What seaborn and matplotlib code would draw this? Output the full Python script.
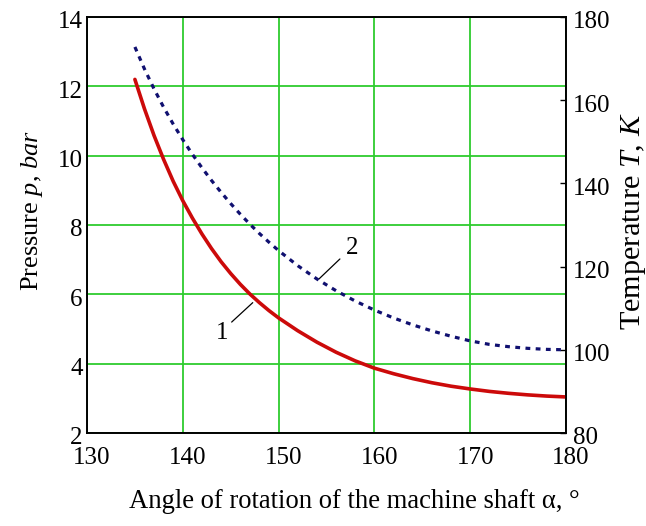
import numpy as np
import pandas as pd
import matplotlib
matplotlib.use("Agg")
import matplotlib.pyplot as plt
import matplotlib.transforms as mtransforms
import seaborn as sns

# ---- data ----
angle = [135, 136, 137, 138, 139, 140, 141, 142, 143, 144, 145, 146, 147, 148, 149, 150,
         152, 154, 156, 158, 160, 162, 164, 166, 168, 170, 172, 174, 176, 178, 180]
pressure = [12.2, 11.35, 10.58, 9.89, 9.26, 8.70, 8.20, 7.74, 7.32, 6.94, 6.60, 6.29, 6.01, 5.76,
            5.53, 5.32, 4.95, 4.62, 4.33, 4.08, 3.87, 3.71, 3.57, 3.45, 3.35, 3.27, 3.20, 3.145,
            3.10, 3.065, 3.04]
temperature = [172.8, 167.5, 162.7, 158.3, 154.25, 150.5, 147.0, 143.75, 140.7, 137.85, 135.15,
               132.6, 130.2, 127.95, 125.85, 123.85, 120.22, 117.02, 114.2, 111.72, 109.55,
               107.65, 105.99, 104.54, 103.26, 102.14, 101.3, 100.75, 100.35, 100.1, 100.0]

x_ticks = [130, 140, 150, 160, 170, 180]
p_ticks = [2, 4, 6, 8, 10, 12, 14]
t_ticks = [80, 100, 120, 140, 160, 180]

sns.set_theme(style="white")
plt.rcParams["font.family"] = ["Liberation Serif", "DejaVu Serif"]
plt.rcParams["mathtext.fontset"] = "custom"
plt.rcParams["mathtext.rm"] = "Liberation Serif"
plt.rcParams["mathtext.it"] = "Liberation Serif:italic"

df = pd.DataFrame({"angle": angle, "pressure": pressure, "temperature": temperature})

W, H = 646, 526
fig = plt.figure(figsize=(W / 100, H / 100), dpi=100)
fig.patch.set_facecolor("white")
L, R, T, B = 87, 566, 17, 433
ax = fig.add_axes([L / W, 1 - B / H, (R - L) / W, (B - T) / H])
ax2 = ax.twinx()

sns.lineplot(data=df, x="angle", y="pressure", ax=ax, color="#cc0a0a", lw=2.6, zorder=3)
sns.lineplot(data=df, x="angle", y="temperature", ax=ax2, color="#101070", lw=2.3,
             linestyle=(0, (1.5, 1.7)), zorder=3)

ax.set_xlim(130, 180)
ax.set_ylim(2, 14)
ax2.set_ylim(80, 180)
ax.set_xticks(x_ticks)
ax.set_yticks(p_ticks)
ax2.set_yticks(t_ticks)
ax.set_xticklabels([str(v) for v in x_ticks])
ax.set_yticklabels([str(v) for v in p_ticks])
ax2.set_yticklabels([str(v) for v in t_ticks])

ax.grid(True, color="#2ecc2e", lw=1.3)
ax.set_axisbelow(True)
ax2.grid(False)

fs = 18
ax.tick_params(axis="x", length=0, pad=10, labelsize=fs, colors="black")
ax.tick_params(axis="y", length=0, pad=3, labelsize=fs, colors="black")
ax2.tick_params(axis="y", direction="in", length=4.5, width=1.0, pad=5,
                labelsize=fs, colors="black", right=True)

for a in (ax, ax2):
    for s in a.spines.values():
        s.set_color("black")
        s.set_linewidth(1.2)

off = mtransforms.ScaledTranslation(5 / 100, 0, fig.dpi_scale_trans)
for lab in ax.get_xticklabels():
    lab.set_transform(lab.get_transform() + off)
offy = mtransforms.ScaledTranslation(0, -3 / 100, fig.dpi_scale_trans)
for lab in ax.get_yticklabels() + ax2.get_yticklabels():
    lab.set_transform(lab.get_transform() + offy)

ax.set_xlabel(r"Angle of rotation of the machine shaft α, °", fontsize=19.2, color="black")
ax.xaxis.label.set_va("center")
ax.xaxis.set_label_coords((354 - L) / (R - L), (B - 502) / (B - T))

ax.set_ylabel(r"Pressure $\mathit{p}$, $\mathit{bar}$", fontsize=19, color="black")
ax.yaxis.label.set_va("center")
ax.yaxis.set_label_coords((32 - L) / (R - L), (B - 210) / (B - T))

ax2.set_ylabel(r"Temperature $\mathit{T}$, $\mathit{K}$", fontsize=21.8, color="black")
ax2.yaxis.label.set_va("center")
ax2.yaxis.label.set_rotation(90)
ax2.yaxis.set_label_coords((633 - L) / (R - L), (B - 221) / (B - T))

# curve labels with leader lines
ax.plot([145.1, 147.3], [5.2, 5.76], color="black", lw=0.9, zorder=4)
ax.text(144.1, 4.88, "1", fontsize=fs, ha="center", va="center", color="black")
ax.plot([156.4, 154.2], [7.02, 6.44], color="black", lw=0.9, zorder=4)
ax.text(157.7, 7.33, "2", fontsize=fs, ha="center", va="center", color="black")

fig.savefig("out.png", dpi=100, facecolor="white")
